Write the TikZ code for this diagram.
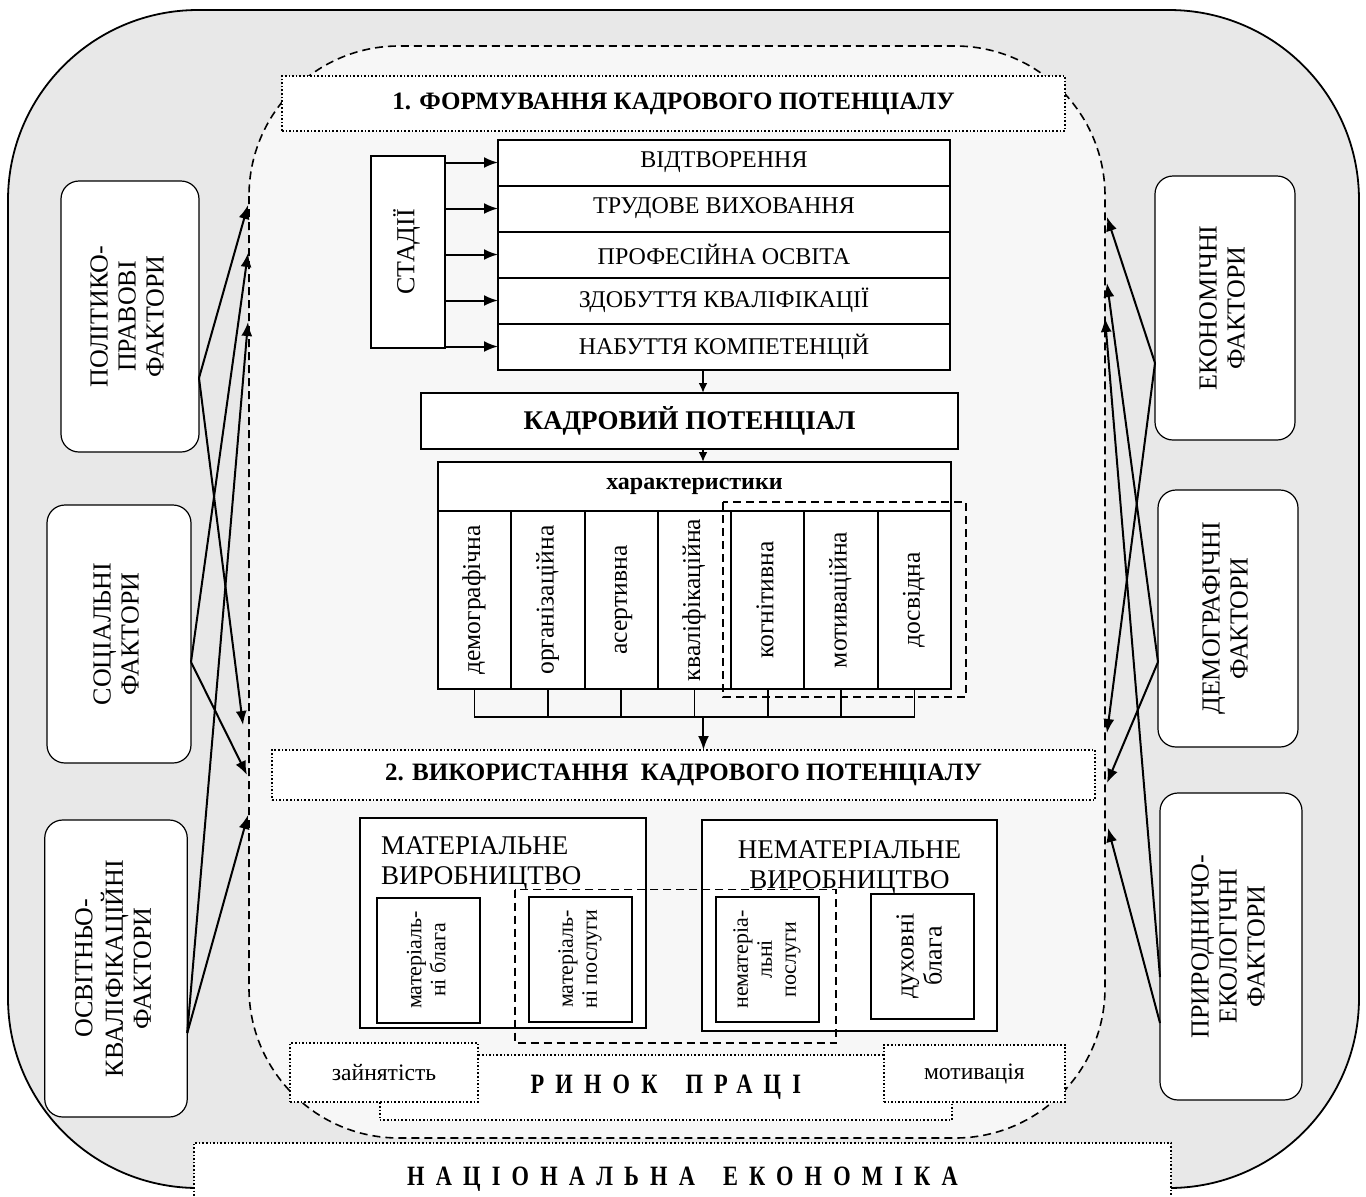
\documentclass[tikz,border=0pt]{standalone}
\usepackage{fontspec}
\setmainfont{Liberation Serif}
\newfontfamily\spacedfont[FakeStretch=0.8,LetterSpace=40]{Liberation Serif}
\usetikzlibrary{arrows.meta, positioning}
\definecolor{OuterGray}{HTML}{E8E8E8}
\definecolor{InnerGray}{HTML}{F7F7F7}
\newcommand{\rottext}[1]{\rotatebox{90}{\begin{tabular}{@{}c@{}}#1\end{tabular}}}
\tikzset{
  % Box styles
  mainbox/.style={rectangle, draw, line width=1pt, fill=white, outer sep=0pt, inner sep=0pt, align=center, font=\fontsize{12}{13}\selectfont},
  stagebox/.style={mainbox, minimum width=226pt, minimum height=23pt},
  colbox/.style={mainbox, minimum width=36.64pt, minimum height=89pt, font=\fontsize{12.8}{14}\selectfont},
  smallbox/.style={mainbox, minimum width=51.5pt, minimum height=62.5pt, font=\fontsize{11}{12}\selectfont},
  titlebox/.style={rectangle, draw, densely dotted, line width=0.8pt, fill=white, outer sep=0pt, inner sep=0pt, font=\fontsize{12.5}{14}\selectfont\bfseries},
  dotbox/.style={rectangle, draw, densely dotted, line width=0.8pt, fill=white, outer sep=0pt, inner sep=0pt, font=\fontsize{11.8}{13}\selectfont},
  factorbox/.style={rectangle, rounded corners=9pt, draw, line width=0.6pt, fill=white, outer sep=0pt, align=center, font=\fontsize{13}{14}\selectfont},
  % Line styles
  arrow/.style={-{Latex[length=7pt,width=5.5pt]}, line width=1pt},
  smallarrow/.style={-{Latex[length=5pt,width=4.5pt]}, line width=1pt},
  groupline/.style={dashed, dash pattern=on 4pt off 2.5pt, line width=0.9pt},
  bracketline/.style={line width=0.8pt}
}
\begin{document}
\begin{tikzpicture}[x=0.5pt, y=-0.5pt]
  \useasboundingbox (0,0) rectangle (1366,1196);
  % National economy and personnel potential areas
  \draw[line width=0.9pt, fill=OuterGray, rounded corners=95pt] (8,10) rectangle (1359,1188);
  \draw[line width=0.8pt, dash pattern=on 4pt off 2.5pt, fill=InnerGray, rounded corners=75pt] (249,46) rectangle (1105,1138);

  % 1. Formation
  \node[titlebox, minimum width=391.5pt, minimum height=27.5pt] (form) at (673.5,103.5) {1. ФОРМУВАННЯ КАДРОВОГО ПОТЕНЦІАЛУ};

  % Stages
  \node[mainbox, minimum width=37pt, minimum height=96pt, font=\fontsize{13}{14}\selectfont] (stages) at (408,252) {\rottext{СТАДІЇ}};
  \node[stagebox] (vidtv) at (724,162.5) {ВІДТВОРЕННЯ};
  \node[stagebox, below=0pt of vidtv] (trud) {ТРУДОВЕ ВИХОВАННЯ};
  \node[stagebox, below=0pt of trud] (prof) {ПРОФЕСІЙНА ОСВІТА};
  \node[stagebox, below=0pt of prof] (zdob) {ЗДОБУТТЯ КВАЛІФІКАЦІЇ};
  \node[stagebox, below=0pt of zdob] (nabut) {НАБУТТЯ КОМПЕТЕНЦІЙ};

  \draw[arrow] (stages.east |- vidtv.west) -- (vidtv.west);
  \draw[arrow] (stages.east |- trud.west) -- (trud.west);
  \draw[arrow] (stages.east |- prof.west) -- (prof.west);
  \draw[arrow] (stages.east |- zdob.west) -- (zdob.west);
  \draw[arrow] (stages.east |- nabut.west) -- (nabut.west);

  % Personnel potential
  \node[mainbox, minimum width=268.5pt, minimum height=28pt, font=\fontsize{13.5}{15}\selectfont\bfseries] (kp) at (689.5,421) {КАДРОВИЙ ПОТЕНЦІАЛ};
  \draw[smallarrow] ([xshift=-10.5pt]nabut.south) -- ([xshift=-10.5pt]nabut.south |- kp.north);

  % Characteristics
  \node[mainbox, minimum width=256.5pt, minimum height=24.5pt, font=\fontsize{12}{13}\selectfont\bfseries] (harakt) at (694.5,486.5) {характеристики};
  \draw[smallarrow] ([xshift=6.75pt]kp.south) -- ([xshift=6.75pt]kp.south |- harakt.north);

  \node[colbox, anchor=north west] (dem) at (harakt.south west) {\rottext{демографічна}};
  \node[colbox, right=0pt of dem] (org) {\rottext{організаційна}};
  \node[colbox, right=0pt of org] (asert) {\rottext{асертивна}};
  \node[colbox, right=0pt of asert] (kval) {\rottext{кваліфікаційна}};
  \node[colbox, right=0pt of kval] (kogn) {\rottext{когнітивна}};
  \node[colbox, right=0pt of kogn] (motiv) {\rottext{мотиваційна}};
  \node[colbox, right=0pt of motiv] (dosv) {\rottext{досвідна}};
  \draw[groupline] ([xshift=-4pt,yshift=4.5pt]kogn.north west) rectangle ([xshift=7.5pt,yshift=-4pt]dosv.south east);

  % Bracket below characteristics
  \draw[bracketline] (dem.south) -- ++(0,28) -| (dosv.south);
  \draw[bracketline] (org.south) -- ++(0,28);
  \draw[bracketline] (asert.south) -- ++(0,28);
  \draw[bracketline] (kval.south) -- ++(0,28) coordinate (join);
  \draw[bracketline] (kogn.south) -- ++(0,28);
  \draw[bracketline] (motiv.south) -- ++(0,28);

  % 2. Usage
  \node[titlebox, minimum width=411.5pt, minimum height=25pt] (use) at (683.5,775) {2. ВИКОРИСТАННЯ\ \ КАДРОВОГО ПОТЕНЦІАЛУ};
  \draw[arrow] ([xshift=4.5pt]join) -- ([xshift=4.5pt]join |- use.north);

  % Production
  \node[mainbox, minimum width=143pt, minimum height=105pt] (matvyr) at (502.6,923) {};
  \node[anchor=north west, align=left, inner sep=0pt, font=\fontsize{13.5}{15}\selectfont] (mattxt) at ([xshift=10.5pt,yshift=-9pt]matvyr.north west) {МАТЕРІАЛЬНЕ\\ВИРОБНИЦТВО};
  \node[mainbox, minimum width=147.5pt, minimum height=105.5pt] (nematvyr) at (849.5,925.5) {};
  \node[anchor=north, align=center, inner sep=0pt, font=\fontsize{13.5}{15}\selectfont] (nemattxt) at ([yshift=-10pt]nematvyr.north) {НЕМАТЕРІАЛЬНЕ\\ВИРОБНИЦТВО};

  \node[smallbox] (matblaga) at (428.5,960) {\rottext{матеріаль-\\ні блага}};
  \node[smallbox] (matposl) at (580,959) {\rottext{матеріаль-\\ні послуги}};
  \node[smallbox] (nematposl) at (767,959.5) {\rottext{нематеріа-\\льні\\послуги}};
  \node[smallbox, font=\fontsize{13}{14}\selectfont] (duhov) at (922,956) {\rottext{духовні\\блага}};
  \draw[groupline] ([xshift=-6.7pt,yshift=3.5pt]matposl.north west) rectangle ([xshift=8.85pt,yshift=-10.5pt]nematposl.south east);

  % Labour market
  \node[dotbox, minimum width=286pt, minimum height=32.5pt, font=\fontsize{14}{15}\selectfont] (rynok) at (665.8,1087.5) {\spacedfont\bfseries РИНОК\quad ПРАЦІ};
  \node[dotbox, minimum width=94pt, minimum height=29.5pt] (zain) at (384,1072.5) {зайнятість};
  \node[dotbox, minimum width=90.5pt, minimum height=28.5pt] (motyv) at (974.4,1073.5) {мотивація};

  % National economy
  \node[dotbox, minimum width=488.5pt, minimum height=36pt, font=\fontsize{14}{15}\selectfont] (econ) at (682.5,1179) {\spacedfont\bfseries НАЦІОНАЛЬНА\quad ЕКОНОМІКА};

  % Factors
  \node[factorbox, minimum width=69pt, minimum height=135.5pt] (polit) at (130,316.5) {\rottext{ПОЛІТИКО-\\ПРАВОВІ\\ФАКТОРИ}};
  \node[factorbox, minimum width=72pt, minimum height=129pt] (social) at (119,634) {\rottext{СОЦІАЛЬНІ\\ФАКТОРИ}};
  \node[factorbox, minimum width=71.25pt, minimum height=148.5pt] (osvit) at (116,968.5) {\rottext{ОСВІТНЬО-\\КВАЛІФІКАЦІЙНІ\\ФАКТОРИ}};
  \node[factorbox, minimum width=70pt, minimum height=132pt] (ekon) at (1225,308) {\rottext{ЕКОНОМІЧНІ\\ФАКТОРИ}};
  \node[factorbox, minimum width=70pt, minimum height=128.5pt] (demog) at (1228,618.5) {\rottext{ДЕМОГРАФІЧНІ\\ФАКТОРИ}};
  \node[factorbox, minimum width=71pt, minimum height=153.5pt] (pryr) at (1231,946.5) {\rottext{ПРИРОДНИЧО-\\ЕКОЛОГІЧНІ\\ФАКТОРИ}};

  % Influence points on the boundary
  \coordinate (lp1) at (248,205);
  \coordinate (lp2) at (248,253);
  \coordinate (lp3) at (248,322);
  \coordinate (lp4) at (243,725);
  \coordinate (lp5) at (247,775);
  \coordinate (lp6) at (248,815);
  \coordinate (rp1) at (1107,217);
  \coordinate (rp2) at (1107,283);
  \coordinate (rp3) at (1105,318);
  \coordinate (rp4) at (1107,733);
  \coordinate (rp5) at (1107,783);
  \coordinate (rp6) at (1108,828);

  % Factor arrows
  \draw[arrow] ([yshift=-30.75pt]polit.east) -- (lp1);
  \draw[arrow] ([yshift=-30.75pt]polit.east) -- (lp4);
  \draw[arrow] ([yshift=-14pt]social.east) -- (lp2);
  \draw[arrow] ([yshift=-14pt]social.east) -- (lp5);
  \draw[arrow] ([yshift=-32.25pt]osvit.east) -- (lp3);
  \draw[arrow] ([yshift=-32.25pt]osvit.east) -- (lp6);
  \draw[arrow] ([yshift=-27.5pt]ekon.west) -- (rp1);
  \draw[arrow] ([yshift=-27.5pt]ekon.west) -- (rp4);
  \draw[arrow] ([yshift=-21.75pt]demog.west) -- (rp2);
  \draw[arrow] ([yshift=-21.75pt]demog.west) -- (rp5);
  \draw[arrow] ([yshift=-15.25pt]pryr.west) -- (rp3);
  \draw[arrow] ([yshift=-38.25pt]pryr.west) -- (rp6);
\end{tikzpicture}
\end{document}
